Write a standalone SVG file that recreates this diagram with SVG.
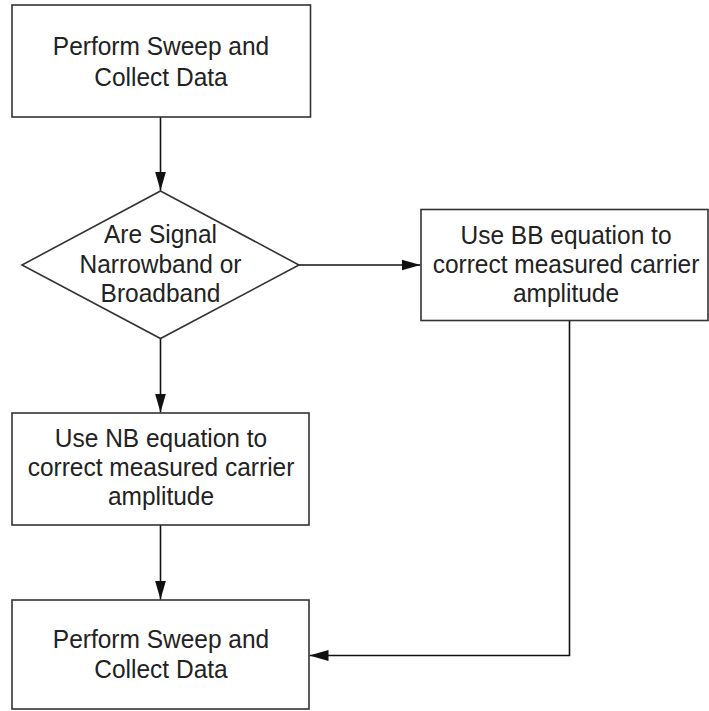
<svg xmlns="http://www.w3.org/2000/svg" width="709" height="711" viewBox="0 0 709 711">
  <style>
    .box { fill: #ffffff; stroke: #333333; stroke-width: 1.6; }
    .lbl { font-family: "Liberation Sans", Arial, sans-serif; font-size: 24.5px; fill: #222222; text-anchor: middle; }
    .wire { fill: none; stroke: #111111; stroke-width: 1.6; }
  </style>
  <defs>
    <marker id="arrow" markerUnits="userSpaceOnUse" markerWidth="20" markerHeight="12" refX="19" refY="6" orient="auto">
      <path d="M0,0.5 L19,6 L0,11.5 z" fill="#111111"/>
    </marker>
  </defs>
  <rect width="709" height="711" fill="#ffffff"/>

  <g id="connectors">
    <line class="wire" x1="160.5" y1="117" x2="160.5" y2="190.5" marker-end="url(#arrow)"/>
    <line class="wire" x1="299" y1="265" x2="420.5" y2="265" marker-end="url(#arrow)"/>
    <line class="wire" x1="160.5" y1="338.5" x2="160.5" y2="412.5" marker-end="url(#arrow)"/>
    <line class="wire" x1="160.5" y1="525" x2="160.5" y2="599.5" marker-end="url(#arrow)"/>
    <polyline class="wire" points="569.5,320.5 569.5,655.5 309.5,655.5" marker-end="url(#arrow)"/>
  </g>

  <!-- labels are set slightly tall: each line is scaled 1.08 vertically about its baseline -->
  <g id="start-sweep">
    <rect class="box" x="12" y="5" width="298.5" height="112"/>
    <text class="lbl" transform="translate(161,55) scale(1,1.08)">Perform Sweep and</text>
    <text class="lbl" transform="translate(161,85.5) scale(1,1.08)">Collect Data</text>
  </g>

  <g id="decision">
    <polygon class="box" points="160.5,191 299,265 160.5,338.5 22,265"/>
    <text class="lbl" transform="translate(160.5,243) scale(1,1.08)">Are Signal</text>
    <text class="lbl" transform="translate(160.5,272.5) scale(1,1.08)">Narrowband or</text>
    <text class="lbl" transform="translate(160.5,301.5) scale(1,1.08)">Broadband</text>
  </g>

  <g id="bb-correction">
    <rect class="box" x="421" y="209.5" width="287" height="111"/>
    <text class="lbl" transform="translate(566,244) scale(1,1.08)">Use BB equation to</text>
    <text class="lbl" transform="translate(566,273) scale(1,1.08)">correct measured carrier</text>
    <text class="lbl" transform="translate(566,301.5) scale(1,1.08)">amplitude</text>
  </g>

  <g id="nb-correction">
    <rect class="box" x="12" y="413" width="297" height="112"/>
    <text class="lbl" transform="translate(161,446.5) scale(1,1.08)">Use NB equation to</text>
    <text class="lbl" transform="translate(161,475.5) scale(1,1.08)">correct measured carrier</text>
    <text class="lbl" transform="translate(161,504.5) scale(1,1.08)">amplitude</text>
  </g>

  <g id="end-sweep">
    <rect class="box" x="12" y="600" width="297" height="109"/>
    <text class="lbl" transform="translate(161,648) scale(1,1.08)">Perform Sweep and</text>
    <text class="lbl" transform="translate(161,678) scale(1,1.08)">Collect Data</text>
  </g>
</svg>
